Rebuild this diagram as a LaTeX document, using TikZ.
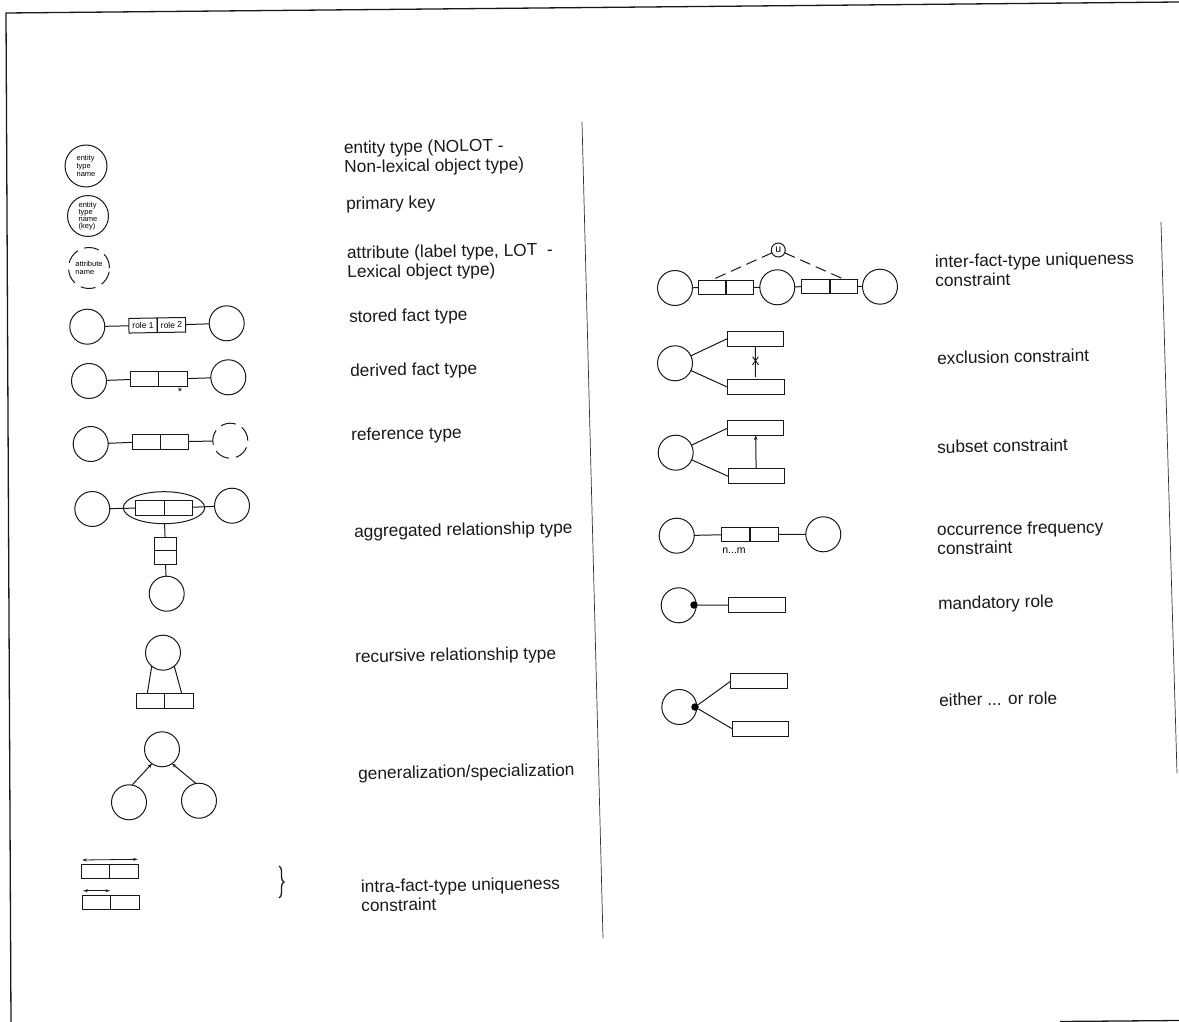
\documentclass[tikz,border=0pt]{standalone}
\usepackage{fontspec}
\setmainfont{Liberation Sans}
\usetikzlibrary{arrows.meta,decorations.pathreplacing,shapes.geometric}
\tikzset{
  ink/.style={draw=black!90,line width=1pt},
  ent/.style={ink,circle,minimum size=#1,inner sep=0pt,outer sep=0pt},
  ent/.default=35pt,
  dashent/.style={ent=#1,dash pattern=on 15pt off 7pt},
  dashent/.default=35pt,
  cell/.style={ink,rectangle,minimum width=28.2pt,minimum height=14.6pt,inner sep=0pt,outer sep=0pt},
  longcell/.style={ink,rectangle,minimum width=56.4pt,minimum height=14.6pt,inner sep=0pt,outer sep=0pt},
  vcell/.style={ink,rectangle,minimum width=22pt,minimum height=13.8pt,inner sep=0pt,outer sep=0pt},
  link/.style={ink},
  head/.style={ink,-{Stealth[length=4.5pt,width=3.5pt]}},
  twohead/.style={ink,line width=0.8pt,{Stealth[length=4.5pt,width=3pt]}-{Stealth[length=4.5pt,width=3pt]}},
  dot/.style={circle,fill=black,inner sep=0pt,minimum size=7.5pt},
  lab/.style={anchor=west,align=left,font=\fontsize{17.3}{19}\selectfont,inner sep=0pt,rotate=1,text=black!90},
  small/.style={align=left,inner sep=0pt,font=\fontsize{7.5}{8}\selectfont,text=black},
  rule/.style={draw=black!80,line width=0.7pt},
}
\begin{document}
\begin{tikzpicture}[x=1pt,y=-1pt]
\useasboundingbox (0,0) rectangle (1179,1022);
\fill[white] (0,0) rectangle (1179,1022);
% frame
\coordinate (fa) at (11,1022); \coordinate (fb) at (6,13); \coordinate (fc) at (1179,2);
\coordinate (fd) at (1060,1021.5); \coordinate (fe) at (1179,1020.5);
\draw[ink,line width=1.3pt] (fa) -- (fb) -- (fc);
\draw[ink,line width=1.3pt] (fd) -- (fe);
% dividing rules
\coordinate (ra) at (582,122); \coordinate (rb) at (603,938);
\coordinate (rc) at (1161,222); \coordinate (rd) at (1177,773);
\draw[rule] (ra) -- (rb);
\draw[rule] (rc) -- (rd);

% entity, key, attribute
\node[ent=42pt,small] (e1) at (86,166) {entity\\type\\name};
\node[ent=41pt,small,font=\fontsize{7.5}{6.8}\selectfont] (e2) at (88,216) {entity\\type\\name\\(key)};
\node[dashent=41pt,small] (e3) at (89,268) {attribute\\name};

% stored
\node[ent] (s1) at (87.3,326.7) {};
\node[ent] (s2) at (226.7,323.3) {};
\node[cell,rotate=1,font=\fontsize{8.5}{9}\selectfont] (s3) at (143,325.5) {role 1};
\node[cell,rotate=1,font=\fontsize{8.5}{9}\selectfont] (s4) at (171.5,325) {role 2};
\draw[link] (s1) -- (s3);
\draw[link] (s4) -- (s2);

% derived
\node[ent] (d1) at (89,381) {};
\node[ent] (d2) at (228.3,377.3) {};
\node[cell] (d3) at (144.8,379) {};
\node[cell] (d4) at (173,379) {};
\node[inner sep=0pt,font=\fontsize{11}{11}\selectfont] (d5) at (180,392) {*};
\draw[link] (d1) -- (d3);
\draw[link] (d4) -- (d2);

% reference
\node[ent] (r1) at (90.7,444) {};
\node[dashent] (r2) at (230.3,440.7) {};
\node[cell] (r3) at (146.4,441.8) {};
\node[cell] (r4) at (174.6,441.8) {};
\draw[link] (r1) -- (r3);
\draw[link] (r4) -- (r2);

% aggregated
\node[ent] (a1) at (92.3,509) {};
\node[ent] (a2) at (232,505.7) {};
\node[ink,ellipse,minimum width=81.4pt,minimum height=32pt,inner sep=0pt,outer sep=0pt] (a3) at (164,507.7) {};
\node[cell] (a4) at (150,507.8) {};
\node[cell] (a5) at (178.5,507.8) {};
\node[vcell] (a6) at (165.3,544) {};
\node[vcell] (a7) at (165.3,557.8) {};
\node[ent] (a8) at (166.7,593.7) {};
\draw[link] (a1) -- (a4);
\draw[link] (a5) -- (a2);
\draw[link] (a3) -- (a6);
\draw[link] (a7) -- (a8);

% recursive
\node[ent] (c1) at (163,652.7) {};
\node[cell] (c2) at (150.8,700.8) {};
\node[cell] (c3) at (179,700.8) {};
\coordinate (c4) at (147.3,693.5); \coordinate (c5) at (181.7,693.5);
\draw[link] (c1.230) -- (c4);
\draw[link] (c1.310) -- (c5);

% generalization
\node[ent] (g1) at (162,749.3) {};
\node[ent] (g2) at (129,802.3) {};
\node[ent] (g3) at (199,800.7) {};
\draw[head] (g2.80) -- (g1.235);
\draw[head] (g3.100) -- (g1.305);

% intra-fact-type uniqueness
\node[cell] (u1) at (95.6,871.5) {};
\node[cell] (u2) at (124,871.5) {};
\node[cell] (u3) at (96.6,902.5) {};
\node[cell] (u4) at (125,902.5) {};
\coordinate (u5) at (82.3,860); \coordinate (u6) at (137.7,859.3);
\coordinate (u7) at (83.3,890.7); \coordinate (u8) at (110,890.7);
\draw[twohead] (u5) -- (u6);
\draw[twohead] (u7) -- (u8);
\coordinate (b1) at (279,866); \coordinate (b2) at (279,898);
\draw[ink,line width=1.3pt,decorate,decoration={brace,amplitude=5pt}] (b1) -- (b2);

% inter-fact-type uniqueness
\node[ink,circle,minimum size=14pt,inner sep=0pt,outer sep=0pt,font=\fontsize{10.5}{10}\selectfont] (i1) at (778.3,250) {u};
\node[ent] (i2) at (675,288) {};
\node[cell] (i3) at (712.3,287.5) {};
\node[cell] (i4) at (739.8,287.5) {};
\node[ent] (i5) at (777.3,287.3) {};
\node[cell] (i6) at (816,286.3) {};
\node[cell] (i7) at (843.4,286.3) {};
\node[ent] (i8) at (880,286.7) {};
\coordinate (i9) at (711.7,280); \coordinate (i10) at (844,279.3);
\draw[link] (i2) -- (i3);
\draw[link] (i4) -- (i5);
\draw[link] (i5) -- (i6);
\draw[link] (i7) -- (i8);
\draw[link,dash pattern=on 11pt off 6pt] (i1) -- (i9);
\draw[link,dash pattern=on 11pt off 6pt] (i1) -- (i10);

% exclusion
\node[ent] (x1) at (675,363.3) {};
\node[longcell] (x2) at (755.3,338.8) {};
\node[longcell] (x3) at (755.8,387.2) {};
\draw[link] (x1) -- (x2.west);
\draw[link] (x1) -- (x3.west);
\coordinate (x4) at (755.5,377);
\draw[link] (x2) -- (x4);
\node[inner sep=0pt,font=\fontsize{12}{12}\selectfont,text=black] (x5) at (755.7,361) {X};

% subset
\node[ent] (y1) at (675.7,452.7) {};
\node[longcell] (y2) at (755.6,428.2) {};
\node[longcell] (y3) at (756.2,476.2) {};
\draw[link] (y1) -- (y2.west);
\draw[link] (y1) -- (y3.west);
\draw[head] (y3) -- (y2);

% occurrence
\node[ent] (o1) at (676.7,535.7) {};
\node[cell] (o2) at (736,534.5) {};
\node[cell] (o3) at (764,534.5) {};
\node[ent] (o4) at (823.3,534.3) {};
\node[inner sep=0pt,font=\fontsize{10.5}{10}\selectfont,text=black] (o5) at (734,551) {n...m};
\draw[link] (o1) -- (o2);
\draw[link] (o3) -- (o4);

% mandatory
\node[ent] (m1) at (678.7,605.3) {};
\node[longcell] (m2) at (757,605.2) {};
\node[dot] (m3) at (694,605) {};
\draw[link] (m3) -- (m2);

% either or
\node[ent] (w1) at (679.3,707) {};
\node[longcell] (w2) at (758.8,681.2) {};
\node[longcell] (w3) at (760.3,728.7) {};
\node[dot] (w4) at (695,707) {};
\draw[link] (w4) -- (w2.west);
\draw[link] (w4) -- (w3.west);

% labels
\node[lab] (l1) at (344,159) {entity type (NOLOT -\\Non-lexical object type)};
\node[lab] (l2) at (346,205) {primary key};
\node[lab] (l3) at (347,264) {attribute (label type, LOT\ \ -\\Lexical object type)};
\node[lab] (l4) at (349,318) {stored fact type};
\node[lab] (l5) at (350,372) {derived fact type};
\node[lab] (l6) at (351,436) {reference type};
\node[lab] (l7) at (354,533) {aggregated relationship type};
\node[lab] (l8) at (355,658) {recursive relationship type};
\node[lab] (l9) at (358,775) {generalization/specialization};
\node[lab] (l10) at (361,896) {intra-fact-type uniqueness\\constraint};
\node[lab] (l11) at (935,271) {inter-fact-type uniqueness\\constraint};
\node[lab] (l12) at (937,358) {exclusion constraint};
\node[lab] (l13) at (937,447) {subset constraint};
\node[lab] (l14) at (937,539) {occurrence frequency\\constraint};
\node[lab] (l15) at (938,605) {mandatory role};
\node[lab] (l16) at (939,700) {either ... or role};
\end{tikzpicture}
\end{document}
